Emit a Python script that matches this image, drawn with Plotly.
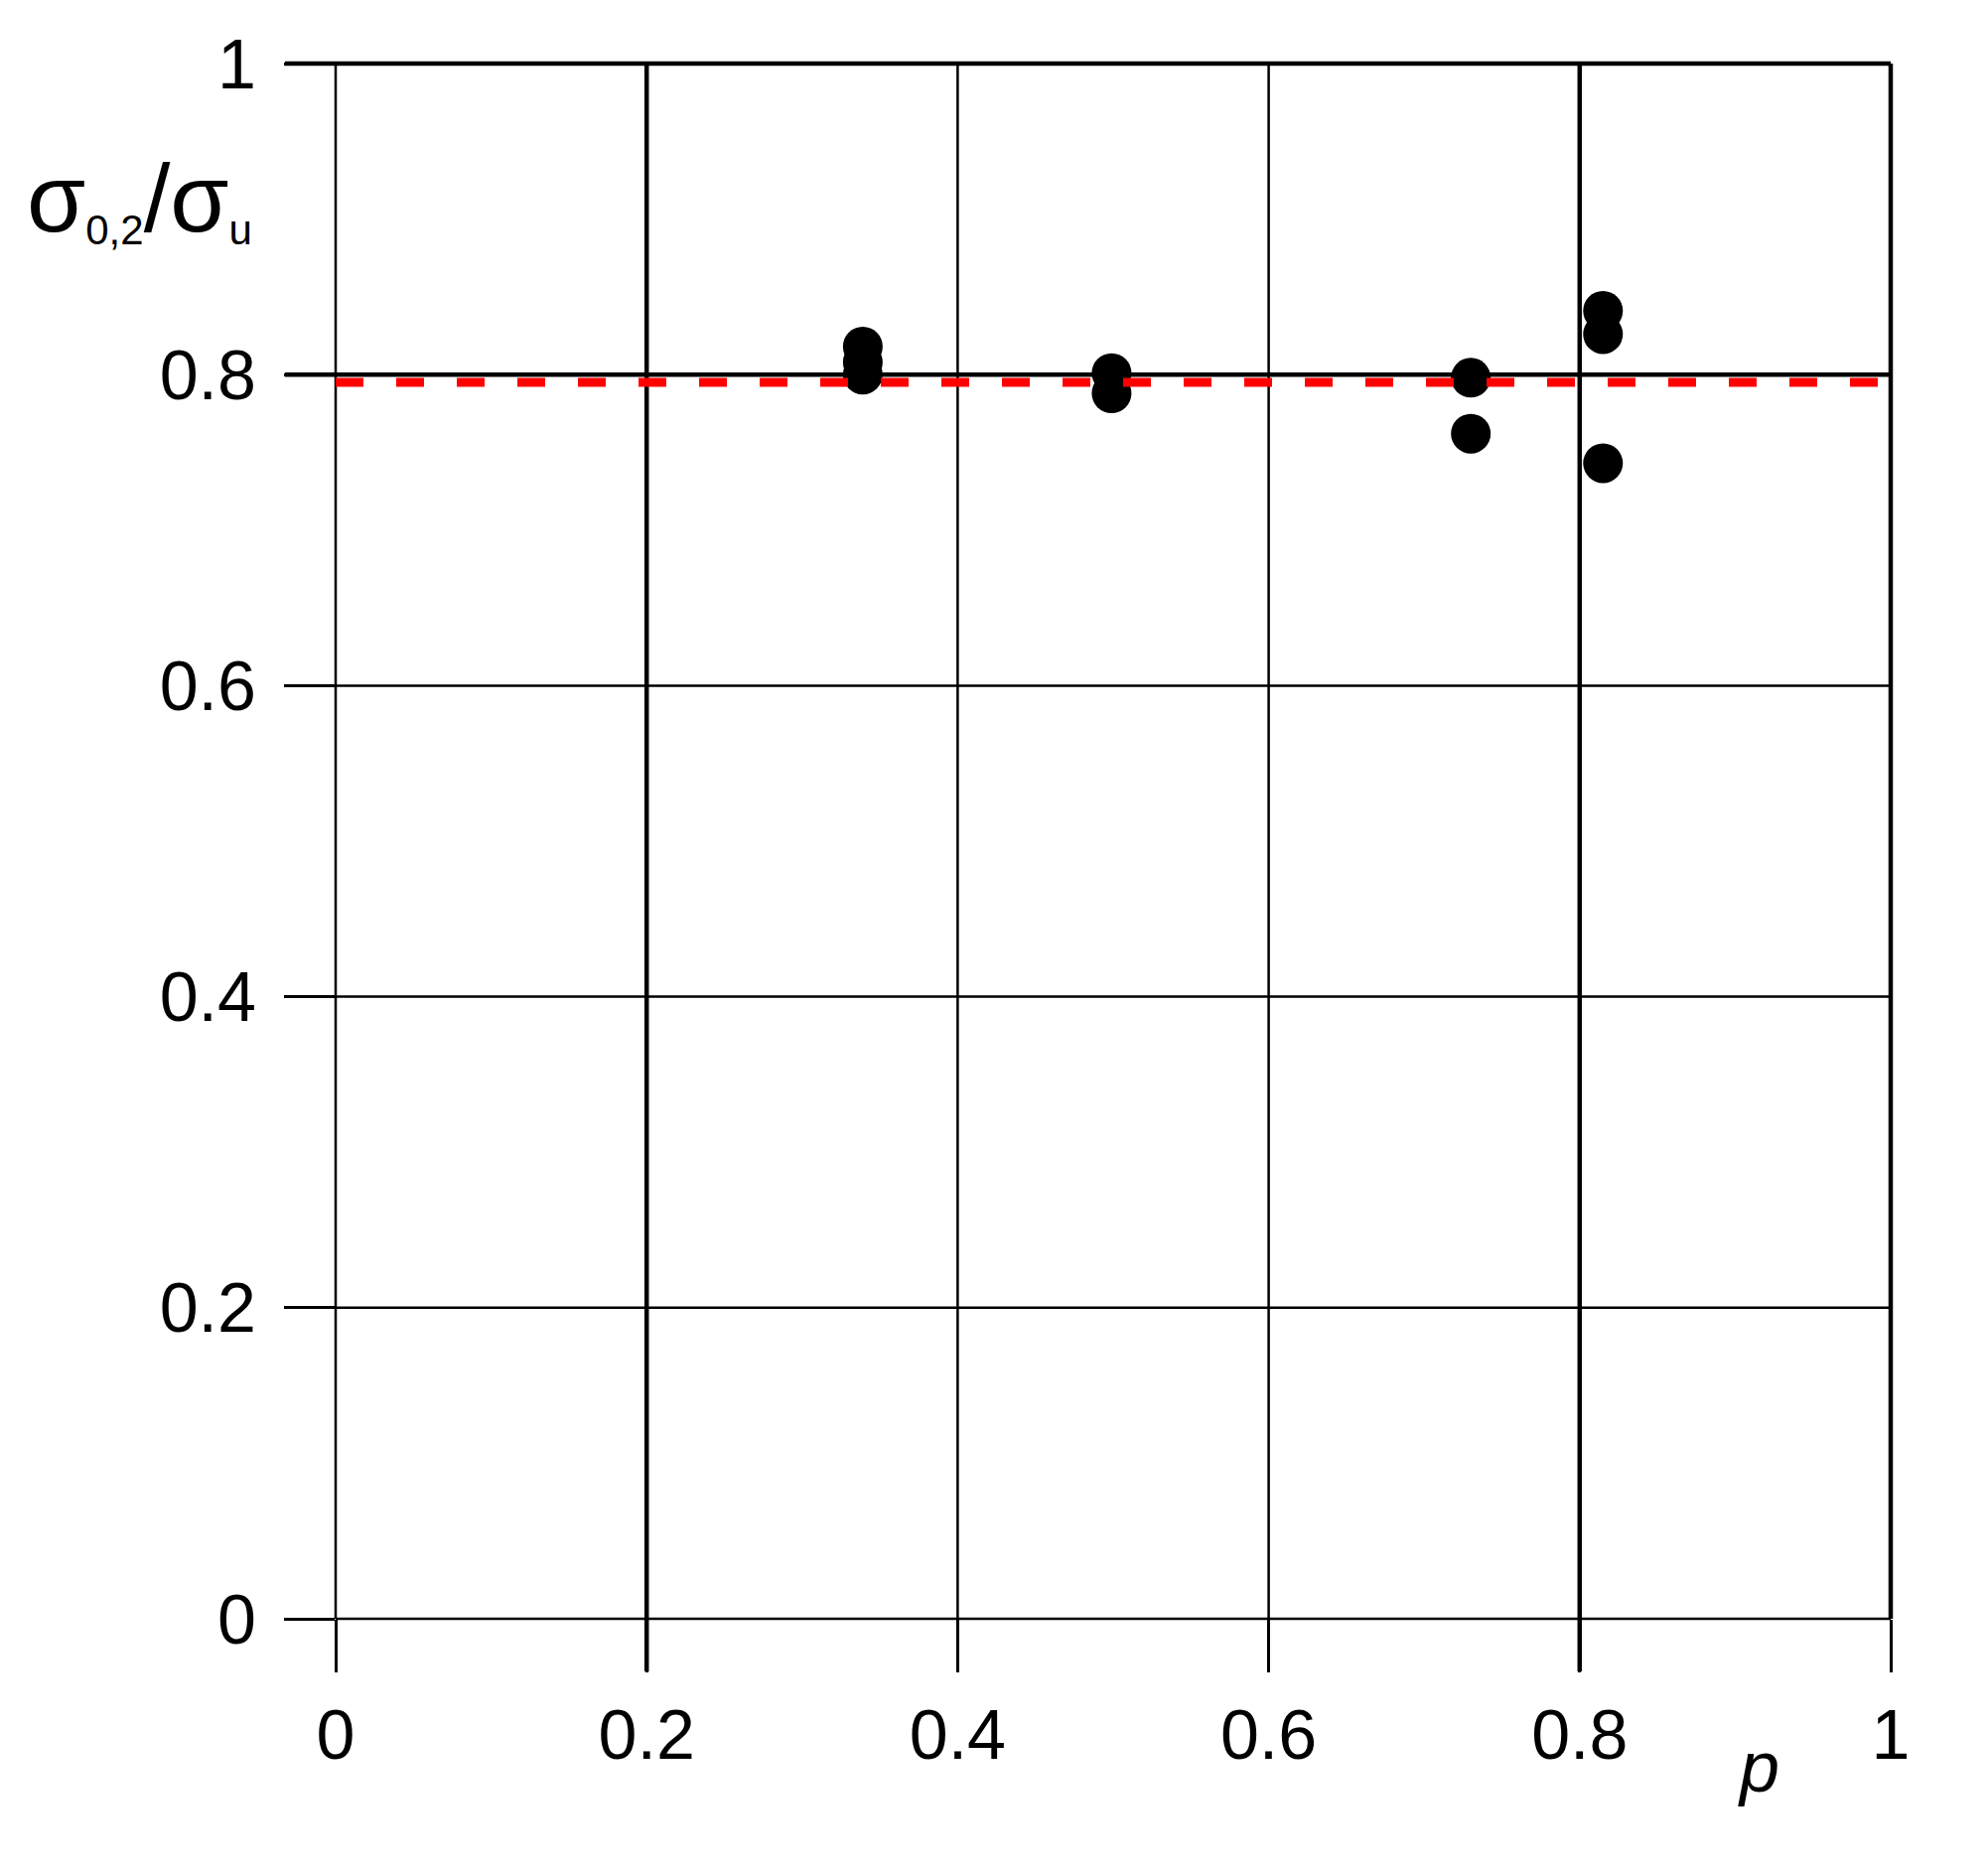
import plotly.graph_objects as go

# ---- data ----
p_vals = [0.339, 0.339, 0.339, 0.499, 0.499, 0.730, 0.730, 0.815, 0.815, 0.815]
ratio_vals = [0.818, 0.808, 0.800, 0.801, 0.788, 0.798, 0.762, 0.841, 0.826, 0.743]
mean_ratio = 0.795

x_ticks = [0, 0.2, 0.4, 0.6, 0.8, 1]
x_tick_labels = ["0", "0.2", "0.4", "0.6", "0.8", "1"]
y_ticks = [0, 0.2, 0.4, 0.6, 0.8, 1]
y_tick_labels = ["0", "0.2", "0.4", "0.6", "0.8", "1"]
thick_x = [0.2, 0.8]
thick_y = [0.8, 1.0]
edge_x = [1.0]
x_range = [0, 1]
y_range = [0, 1]

# ---- layout geometry (page body has an 8px margin) ----
OFF = 8
ml, mr, mt, mb = 330, 90, 56, 250
pw, ph = 1566, 1566
W, H = ml + pw + mr, mt + ph + mb
tick_len_y = 51
tick_len_x = 53
thin = 2.5
thick = 4.5
FONT = "Liberation Sans, Arial, sans-serif"


def px_x(X):
    return (X - OFF - ml) / pw


def px_y(Y):
    return (H - mb - (Y - OFF)) / ph


def fx(v):
    return (v - x_range[0]) / (x_range[1] - x_range[0])


def fy(v):
    return (v - y_range[0]) / (y_range[1] - y_range[0])


fig = go.Figure()

fig.add_trace(go.Scatter(
    x=p_vals, y=ratio_vals, mode="markers",
    marker=dict(size=40, color="black", line=dict(width=0)),
    showlegend=False, cliponaxis=False))

fig.add_trace(go.Scatter(
    x=[x_range[0], x_range[1]], y=[mean_ratio, mean_ratio], mode="lines",
    line=dict(color="#ff0000", width=9, dash="28px,33px"),
    showlegend=False))

shapes = []
# thin grid lines
for xv in x_ticks:
    if xv in thick_x or xv in edge_x:
        continue
    shapes.append(dict(type="line", xref="paper", yref="paper", x0=fx(xv), x1=fx(xv),
                       y0=0, y1=1, layer="below", line=dict(color="black", width=thin)))
for yv in y_ticks:
    if yv in thick_y:
        continue
    shapes.append(dict(type="line", xref="paper", yref="paper", y0=fy(yv), y1=fy(yv),
                       x0=0, x1=1, layer="below", line=dict(color="black", width=thin)))
# thick grid lines (continue through the tick region)
for xv in thick_x:
    shapes.append(dict(type="line", xref="paper", yref="paper", x0=fx(xv), x1=fx(xv),
                       y0=-tick_len_x / ph, y1=1, layer="below",
                       line=dict(color="black", width=thick)))
for xv in edge_x:
    shapes.append(dict(type="line", xref="paper", yref="paper", x0=fx(xv), x1=fx(xv),
                       y0=0, y1=1, layer="below",
                       line=dict(color="black", width=thick)))
for yv in thick_y:
    shapes.append(dict(type="line", xref="paper", yref="paper", y0=fy(yv), y1=fy(yv),
                       x0=-tick_len_y / pw, x1=1, layer="below",
                       line=dict(color="black", width=thick)))

fig.update_layout(
    width=W, height=H,
    margin=dict(l=ml, r=mr, t=mt, b=mb, pad=0),
    paper_bgcolor="white", plot_bgcolor="white",
    font=dict(family=FONT, size=70, color="black"),
    shapes=shapes,
    xaxis=dict(range=x_range, tickmode="array", tickvals=x_ticks, ticktext=x_tick_labels,
               showgrid=False, zeroline=False,
               showline=False, ticks="outside", ticklen=tick_len_x, tickwidth=thin,
               tickcolor="black", ticklabelstandoff=3,
               tickfont=dict(family=FONT, size=70, color="black")),
    yaxis=dict(range=y_range, tickmode="array", tickvals=y_ticks, ticktext=y_tick_labels,
               showgrid=False, zeroline=False,
               showline=False, ticks="outside", ticklen=tick_len_y, tickwidth=thin,
               tickcolor="black", ticklabelstandoff=14,
               tickfont=dict(family=FONT, size=70, color="black")),
    annotations=[
        dict(xref="paper", yref="paper", x=px_x(25), y=px_y(200),
             xanchor="left", yanchor="middle", showarrow=False,
             text='<span style="font-size:96px">σ</span><sub>0,2</sub>'
                  '<span style="font-size:96px">/σ</span><sub>u</sub>',
             font=dict(family=FONT, size=60, color="black")),
        dict(xref="paper", yref="paper", x=px_x(1771), y=px_y(1779),
             xanchor="center", yanchor="middle", showarrow=False,
             text="<i>p</i>", font=dict(family=FONT, size=72, color="black")),
    ],
)

fig.write_html("out.html")
